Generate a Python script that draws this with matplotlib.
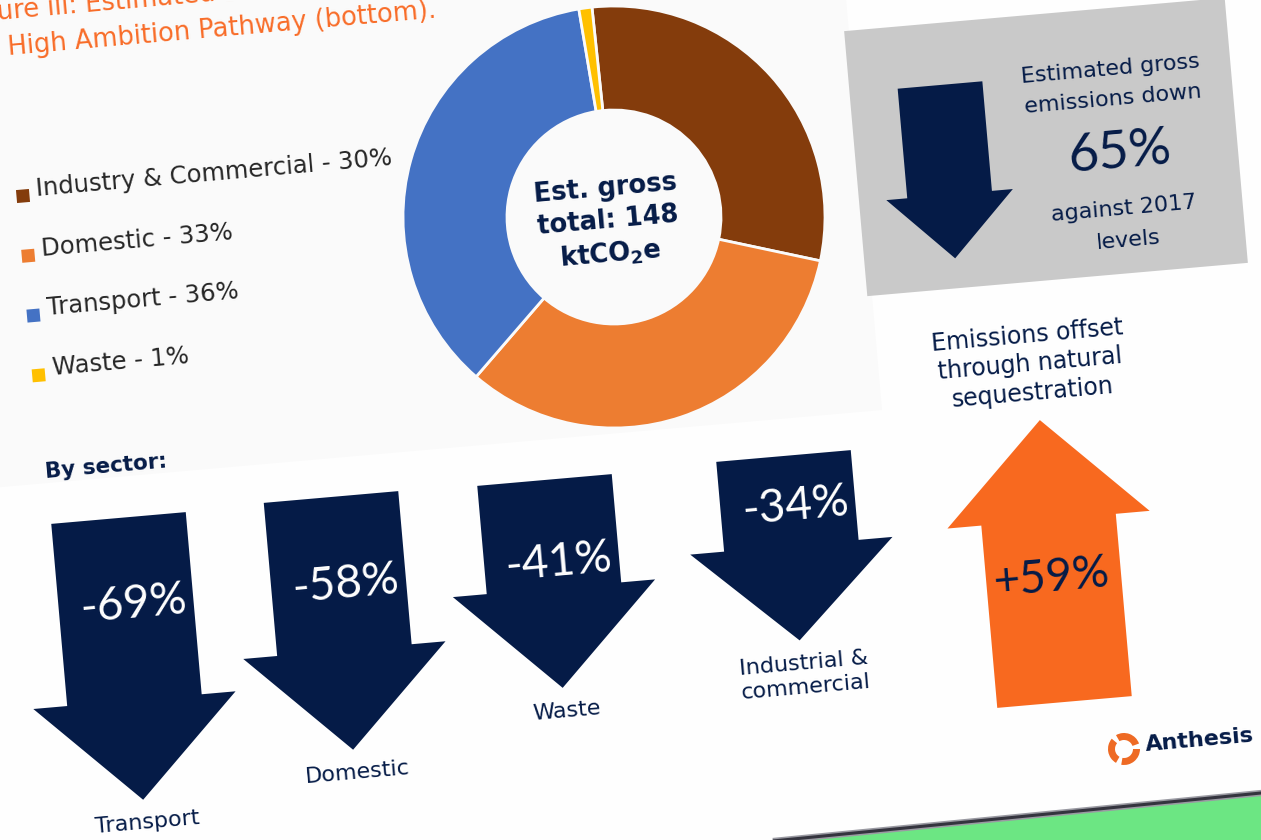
import numpy as np
import matplotlib
matplotlib.use("Agg")
import matplotlib.pyplot as plt
from matplotlib.patches import Polygon, Wedge

# ---------------- data ----------------
sectors = ["Industry & Commercial", "Domestic", "Transport", "Waste"]
shares = [30, 33, 36, 1]
sector_colors = ["#843C0C", "#ED7D31", "#4472C4", "#FFC000"]
total_kt = 148

change_labels = ["Transport", "Domestic", "Waste", "Industrial &\ncommercial"]
change_pct = [-69, -58, -41, -34]
sequestration_pct = 59
overall_reduction = 65
baseline_year = 2017

title_lines = ["Figure iii: Estimated 2050 emissions profile for the",
               "High Ambition Pathway (bottom)."]

# ---------------- style / layout ----------------
W, H = 1261, 840
ANG = 5.0                     # tilt of the photographed page
NAVY = "#051B47"
ORANGE = "#F8691F"
TITLE_OR = "#F86C28"
GREY_BOX = "#C9C9C9"
TXT = "#262626"
FONT = "DejaVu Sans"
PFONT = "Lato"

fig = plt.figure(figsize=(W / 100, H / 100), dpi=100)
ax = fig.add_axes([0, 0, 1, 1])
fig.patch.set_facecolor("#FEFEFE")


def rot(pts, ang=ANG):
    t = np.radians(ang)
    m = np.array([[np.cos(t), -np.sin(t)], [np.sin(t), np.cos(t)]])
    return np.asarray(pts, float) @ m.T


def place(origin_pix, pts, ang=ANG):
    o = np.array([origin_pix[0], H - origin_pix[1]], float)
    return o + rot(pts, ang)


def poly(origin_pix, pts, **kw):
    ax.add_patch(Polygon(place(origin_pix, pts), closed=True, **kw))


def text(origin_pix, s, off=(0, 0), **kw):
    p = place(origin_pix, [off])[0]
    kw.setdefault("ha", "center")
    kw.setdefault("va", "center")
    kw.setdefault("family", FONT)
    ax.text(p[0], p[1], s, rotation=ANG, rotation_mode="anchor", **kw)


# faint chart area behind the donut
poly((882, 410), [(-1400, 0), (0, 0), (0, 700), (-1400, 700)],
     facecolor="#FAFAFA", edgecolor="none", zorder=0)

# green desk below the page edge
edge_a = np.array([783, H - 840])
edge_b = np.array([1261, H - 793])
d = (edge_b - edge_a)
ext_a = edge_a - d * 0.3
ext_b = edge_b + d * 0.3
ax.add_patch(Polygon([ext_a, ext_b, (ext_b[0], -50), (ext_a[0], -50)],
                     closed=True, facecolor="#6CE683", edgecolor="none", zorder=0.5))
ax.plot([ext_a[0], ext_b[0]], [ext_a[1], ext_b[1]], color="#9A9AA2", lw=4.5,
        solid_capstyle="butt", zorder=0.6)
ax.plot([ext_a[0], ext_b[0]], [ext_a[1], ext_b[1]], color="#34343E", lw=2.2,
        solid_capstyle="butt", zorder=0.7)

# ---------------- title ----------------
text((8, 48), title_lines[1], ha="left", color=TITLE_OR, fontsize=18.5)
text((8, 48), title_lines[0], off=(-44, 36), ha="left", color=TITLE_OR, fontsize=18.5)

# ---------------- donut ----------------
cx, cy, R_out, ring = 614, 217, 211, 104
wedges, _ = ax.pie(shares, colors=sector_colors, startangle=90 + ANG + 1,
                   counterclock=False, radius=R_out, center=(cx, H - cy),
                   wedgeprops=dict(width=ring, edgecolor="#FAFAFA", linewidth=2))
text((cx - 6, cy + 5), "Est. gross\ntotal: %d\nktCO$_{\\mathbf{2}}$e" % total_kt,
     color=NAVY, fontsize=18.5, fontweight="bold", linespacing=1.3)

# legend
leg0 = (23, 196)
for i, (name, sh, col) in enumerate(zip(sectors, shares, sector_colors)):
    org = place(leg0, [(0, -60 * i)])[0]
    org_pix = (org[0], H - org[1])
    poly(org_pix, [(-6.5, -6.5), (6.5, -6.5), (6.5, 6.5), (-6.5, 6.5)], facecolor=col,
         edgecolor="none", zorder=3)
    text(org_pix, "%s - %d%%" % (name, sh), off=(14, 6), ha="left",
         color=TXT, fontsize=17.5)

# ---------------- grey summary box ----------------
poly((1046, 147), [(-191, -133), (191, -133), (191, 133), (-191, 133)],
     facecolor=GREY_BOX, edgecolor="none", zorder=1)
sw, sl, hw, hl = 85, 110, 127, 64
poly((940, 85), [(-sw / 2, 0), (sw / 2, 0), (sw / 2, -sl), (hw / 2, -sl),
                 (0, -sl - hl), (-hw / 2, -sl), (-sw / 2, -sl)],
     facecolor=NAVY, edgecolor="none", zorder=2)
text((1110, 69), "Estimated gross", color=NAVY, fontsize=16)
text((1113, 99), "emissions down", color=NAVY, fontsize=16)
text((1119, 153), "%d%%" % overall_reduction, color=NAVY, fontsize=38, family=PFONT)
text((1124, 209), "against %d" % baseline_year, color=NAVY, fontsize=16)
text((1128, 240), "levels", color=NAVY, fontsize=16)

# ---------------- sector arrows ----------------
text((106, 467), "By sector:", color=NAVY, fontsize=15.5, fontweight="bold")

arrow_tops = [(118.5, 518), (331, 497), (544.5, 480), (783.5, 456)]
pct_drop = [87, 88, 83, 51]
shaft_per_pct = 2.65
SW, HW, HL = 135, 203, 100
for (tx, ty), lab, v, pdrop in zip(arrow_tops, change_labels, change_pct, pct_drop):
    sl = abs(v) * shaft_per_pct
    hl = HL if abs(v) > 40 else 95
    poly((tx, ty), [(-SW / 2, 0), (SW / 2, 0), (SW / 2, -sl), (HW / 2, -sl),
                    (0, -sl - hl), (-HW / 2, -sl), (-SW / 2, -sl)],
         facecolor=NAVY, edgecolor="none", zorder=2)
    text((tx, ty), "%d%%" % v, off=(7, -pdrop), color="white", fontsize=33,
         family=PFONT, zorder=3)
    text((tx, ty), lab, off=(2, -sl - hl - 13), va="top", color=NAVY,
         fontsize=16, linespacing=1.25)

# ---------------- sequestration arrow ----------------
text((1030, 364), "Emissions offset\nthrough natural\nsequestration",
     color=NAVY, fontsize=17, linespacing=1.25)
usl, uhl = 183, 100
poly((1064.5, 702), [(-SW / 2, 0), (SW / 2, 0), (SW / 2, usl), (HW / 2, usl),
                     (0, usl + uhl), (-HW / 2, usl), (-SW / 2, usl)],
     facecolor=ORANGE, edgecolor="none", zorder=2)
text((1052, 578), "+%d%%" % sequestration_pct, color=NAVY, fontsize=33,
     family=PFONT, zorder=3)

# ---------------- logo ----------------
lc = (1124, H - 749)
for a0 in (20, 140, 260):
    ax.add_patch(Wedge(lc, 16, a0, a0 + 100, width=7, facecolor="#EE6A24",
                       edgecolor="none", zorder=3))
text((1145, 745), "Anthesis", ha="left", color=NAVY, fontsize=16, fontweight="bold")

ax.set_xlim(0, W)
ax.set_ylim(0, H)
ax.set_aspect("auto")
ax.axis("off")
fig.savefig("out.png", dpi=100, facecolor=fig.get_facecolor())
